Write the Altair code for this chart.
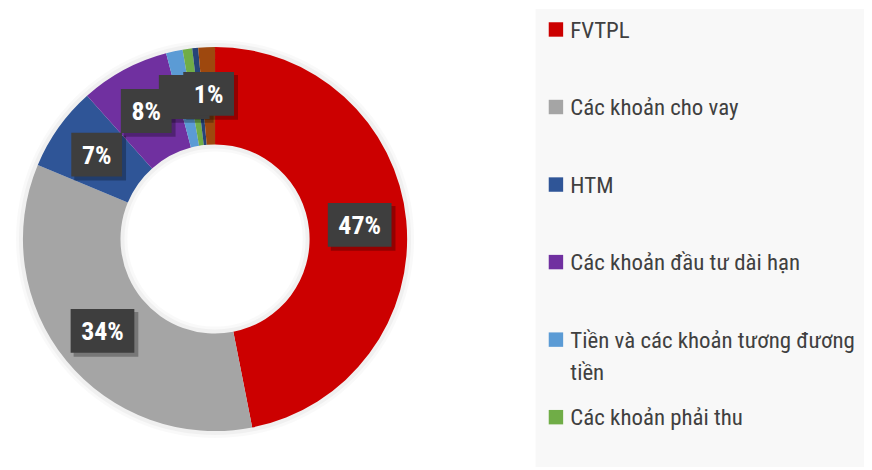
import math
import altair as alt
import pandas as pd

# ---- data ----
categories = [
    "FVTPL",
    "Các khoản cho vay",
    "HTM",
    "Các khoản đầu tư dài hạn",
    "Tiền và các khoản tương đương tiền",
    "Các khoản phải thu",
    "AFS",
    "Tài sản khác",
]
values = [46.9, 34.4, 7.1, 7.5, 1.4, 0.8, 0.5, 1.4]
labels = ["47%", "34%", "7%", "8%", "1%", "", "", "1%"]
colors = ["#CC0000", "#A5A5A5", "#2F5597", "#7030A0",
          "#5B9BD5", "#70AD47", "#264478", "#9E480E"]
legend_count = 6  # the legend box only shows the first six entries

# ---- layout constants (pixels inside the chart) ----
W, H = 860, 460
CX, CY = 208, 231
R_OUT, R_IN = 193, 95
R_LAB = 146
LAB_FONT = "Liberation Sans Narrow, Roboto Condensed, Arial Narrow, sans-serif"

df = pd.DataFrame({
    "idx": list(range(len(categories))),
    "category": categories,
    "value": values,
    "label": labels,
})
df_leg = df.iloc[:legend_count].copy()
one = pd.DataFrame({"a": [0]})

color_scale = alt.Scale(domain=categories, range=colors)

# legend background panel
bg = alt.Chart(one).mark_rect(color="#F8F8F8").encode(
    x=alt.value(530), x2=alt.value(W), y=alt.value(0), y2=alt.value(H)
)

# soft shadow rings around the donut
rings = alt.layer(*[
    alt.Chart(one).mark_arc(radius=ro, innerRadius=ri, color="#000000", opacity=op).encode(
        theta=alt.value(2 * math.pi), x=alt.value(CX), y=alt.value(CY)
    )
    for ro, ri, op in [(200, 88, 0.025), (197, 91, 0.035)]
])

arc = alt.Chart(df).mark_arc(radius=R_OUT, innerRadius=R_IN).encode(
    theta=alt.Theta("value:Q", stack=True),
    color=alt.Color("category:N", scale=color_scale, legend=None),
    order=alt.Order("idx:Q"),
    x=alt.value(CX),
    y=alt.value(CY),
)

lab_base = (
    alt.Chart(df)
    .transform_joinaggregate(total="sum(value)")
    .transform_window(cum="sum(value)", sort=[alt.SortField("idx")], frame=[None, 0])
    .transform_calculate(mid="2*PI*(datum.cum - datum.value/2)/datum.total")
    .transform_calculate(
        lx=f"{CX} + {R_LAB}*sin(datum.mid)",
        ly=f"{CY} - {R_LAB}*cos(datum.mid)",
        bw="length(datum.label) >= 3 ? 64 : 51",
    )
    .transform_calculate(
        bx1="datum.lx - datum.bw/2",
        bx2="datum.lx + datum.bw/2",
        by1="datum.ly - 22",
        by2="datum.ly + 22",
        sx1="datum.lx - datum.bw/2 + 3",
        sx2="datum.lx + datum.bw/2 + 4",
        sy1="datum.ly - 22 + 3",
        sy2="datum.ly + 22 + 4",
        ty="datum.ly + 9",
    )
    .transform_filter("datum.label != ''")
)

shadows = lab_base.mark_rect(color="#000000", opacity=0.28).encode(
    x=alt.X("sx1:Q", scale=None, axis=None), x2="sx2:Q",
    y=alt.Y("sy1:Q", scale=None, axis=None), y2="sy2:Q",
)
boxes = lab_base.mark_rect(color="#3E3E3E").encode(
    x=alt.X("bx1:Q", scale=None, axis=None), x2="bx2:Q",
    y=alt.Y("by1:Q", scale=None, axis=None), y2="by2:Q",
)
# the light-blue slice's label lies under the brown slice's label, only its box shows
texts = lab_base.transform_filter("datum.idx != 4").mark_text(
    font=LAB_FONT, fontSize=26, fontWeight="bold", color="white",
    align="center", baseline="alphabetic",
).encode(
    x=alt.X("lx:Q", scale=None, axis=None),
    y=alt.Y("ty:Q", scale=None, axis=None),
    text="label:N",
)

leg_base = alt.Chart(df_leg).transform_calculate(
    sy="20.5 + datum.idx*77.9",
    ty="28.8 + datum.idx*77.9",
    ltext="replace(datum.category, 'đương tiền', 'đương\\ntiền')",
)
leg_sq = leg_base.mark_square(size=210, opacity=1).encode(
    x=alt.value(550.5),
    y=alt.Y("sy:Q", scale=None, axis=None),
    color=alt.Color("category:N", scale=color_scale, legend=None),
)
leg_txt = leg_base.mark_text(
    font=LAB_FONT, fontSize=23, color="#404040", align="left",
    baseline="alphabetic", lineBreak="\n", lineHeight=32,
).encode(
    x=alt.value(565),
    y=alt.Y("ty:Q", scale=None, axis=None),
    text="ltext:N",
)

chart = alt.layer(bg, rings, arc, shadows, boxes, texts, leg_sq, leg_txt).properties(
    width=W, height=H, padding=0, autosize="none", background="white"
).configure_view(stroke=None)

chart.save("out.html", embed_options={"renderer": "svg", "actions": False})
